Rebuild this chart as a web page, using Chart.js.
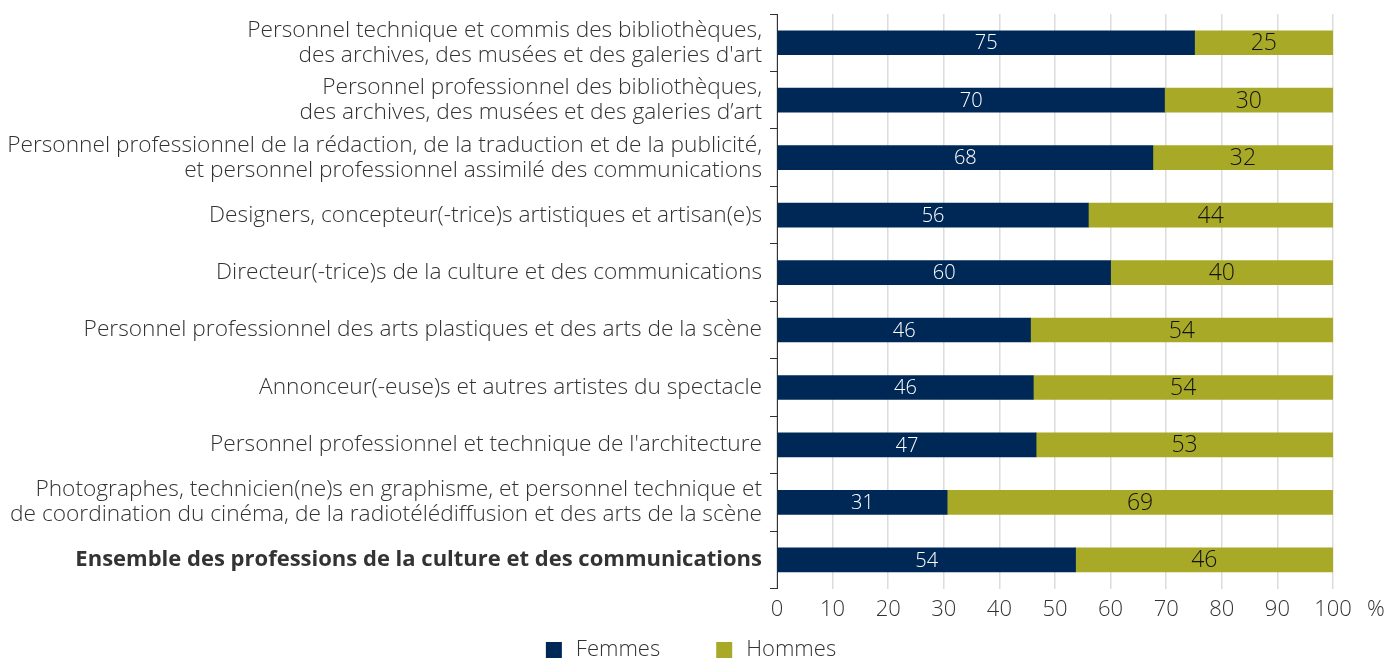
<!DOCTYPE html>
<html lang="fr">
<head>
<meta charset="utf-8">
<title>Femmes et hommes dans les professions de la culture et des communications</title>
<script src="https://cdn.jsdelivr.net/npm/chart.js@4.4.1/dist/chart.umd.min.js"></script>
<style>
  html, body { margin: 0; padding: 0; background: #fff; }
  #wrap { width: 1386px; height: 658px; position: relative; }
</style>
</head>
<body>
<div id="wrap"><canvas id="chart"></canvas></div>
<script>
const categories = [
  ["Personnel technique et commis des bibliothèques,", "des archives, des musées et des galeries d'art"],
  ["Personnel professionnel des bibliothèques,", "des archives, des musées et des galeries d’art"],
  ["Personnel professionnel de la rédaction, de la traduction et de la publicité,", "et personnel professionnel assimilé des communications"],
  "Designers, concepteur(-trice)s artistiques et artisan(e)s",
  "Directeur(-trice)s de la culture et des communications",
  "Personnel professionnel des arts plastiques et des arts de la scène",
  "Annonceur(-euse)s et autres artistes du spectacle",
  "Personnel professionnel et technique de l'architecture",
  ["Photographes, technicien(ne)s en graphisme, et personnel technique et", "de coordination du cinéma, de la radiotélédiffusion et des arts de la scène"],
  "Ensemble des professions de la culture et des communications"
];

const femmes = [75.1, 69.7, 67.6, 56.0, 60.0, 45.6, 46.1, 46.6, 30.6, 53.7];
const hommes = [24.9, 30.3, 32.4, 44.0, 40.0, 54.4, 53.9, 53.4, 69.4, 46.3];

const xTicks = [0, 10, 20, 30, 40, 50, 60, 70, 80, 90, 100];

const NAVY = "#002856";
const OLIVE = "#a8aa27";
const TEXT = "#333333";
const FONT = "'Open Sans', 'Noto Sans', sans-serif";
const SIZE = 22;

// valeurs arrondies au centre de chaque segment
const barLabels = {
  id: "barLabels",
  afterDatasetsDraw(chart) {
    const ctx = chart.ctx;
    ctx.save();
    ctx.textAlign = "center";
    ctx.textBaseline = "middle";
    chart.data.datasets.forEach((ds, i) => {
      const meta = chart.getDatasetMeta(i);
      meta.data.forEach((bar, j) => {
        const x = (bar.x + bar.base) / 2;
        if (i === 0) {
          ctx.fillStyle = "#ffffff";
          ctx.font = `300 20px ${FONT}`;
        } else {
          ctx.fillStyle = "#111111";
          ctx.font = `300 23px ${FONT}`;
        }
        ctx.fillText(String(Math.round(ds.data[j])), x, bar.y + 1);
      });
    });
    ctx.restore();
  }
};

// signe % après le dernier repère + légende en bas
const extras = {
  id: "extras",
  afterDraw(chart) {
    const x = chart.scales.x;
    const ctx = chart.ctx;
    ctx.save();
    ctx.fillStyle = TEXT;
    ctx.font = `300 ${SIZE}px ${FONT}`;
    ctx.textBaseline = "middle";
    ctx.textAlign = "left";
    ctx.fillText("%", x.getPixelForValue(100) + 34, x.top + 21);

    // légende
    const items = chart.data.datasets.map(ds => ({
      text: ds.label,
      color: ds.backgroundColor,
      w: 16 + 14 + ctx.measureText(ds.label).width
    }));
    const gap = 56;
    const total = items.reduce((s, it) => s + it.w, 0) + gap * (items.length - 1);
    let lx = (chart.width - total) / 2 - 2;
    const ly = chart.height - 8;
    items.forEach(it => {
      ctx.fillStyle = it.color;
      ctx.fillRect(lx, ly - 8, 16, 16);
      ctx.fillStyle = TEXT;
      ctx.fillText(it.text, lx + 30, ly);
      lx += it.w + gap;
    });
    ctx.restore();
  }
};

new Chart(document.getElementById("chart"), {
  type: "bar",
  data: {
    labels: categories,
    datasets: [
      { label: "Femmes", data: femmes, backgroundColor: NAVY, barThickness: 24 },
      { label: "Hommes", data: hommes, backgroundColor: OLIVE, barThickness: 24 }
    ]
  },
  options: {
    indexAxis: "y",
    responsive: true,
    maintainAspectRatio: false,
    animation: false,
    layout: { padding: { top: 14, right: 53, left: 6, bottom: 27 } },
    plugins: {
      legend: { display: false },
      tooltip: { enabled: false }
    },
    scales: {
      x: {
        stacked: true,
        min: 0,
        max: 100,
        afterBuildTicks(scale) {
          scale.ticks = xTicks.map(v => ({ value: v }));
        },
        grid: { color: "#dcdcdc", lineWidth: 1.5, drawTicks: false },
        border: { display: false },
        ticks: {
          color: TEXT,
          font: { family: FONT, size: SIZE, weight: 300 },
          padding: 8,
          maxRotation: 0
        }
      },
      y: {
        stacked: true,
        afterFit(scale) {
          scale.width = 771;
          scale.paddingTop = 0;
          scale.paddingBottom = 0;
        },
        grid: { offset: true, drawOnChartArea: false, drawTicks: true, tickLength: 7, color: "#333333" },
        border: { display: true, color: "#333333", width: 1 },
        ticks: {
          color: TEXT,
          padding: 8,
          autoSkip: false,
          font: ctx => {
            const last = ctx.index === categories.length - 1;
            return {
              family: FONT,
              size: last ? 22 : 22.7,
              lineHeight: last ? 1.14 : 1.1,
              weight: last ? "bold" : 300
            };
          }
        }
      }
    }
  },
  plugins: [barLabels, extras]
});
</script>
</body>
</html>
